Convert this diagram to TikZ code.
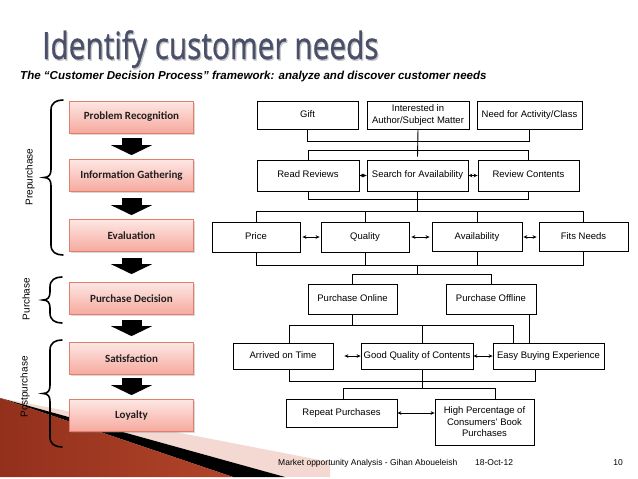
\documentclass[tikz,border=0pt]{standalone}
\usepackage{fontspec}
\setmainfont{Liberation Sans}
\newfontfamily\titlefont[FakeBold=1]{Open Sans}
\newfontfamily\boxfont{Carlito}
\usetikzlibrary{arrows.meta,shadows,calc}
\definecolor{titlecol}{HTML}{4A5069}
\definecolor{boxedge}{HTML}{E0806C}
\definecolor{boxtop}{HTML}{FDE7E3}
\definecolor{boxbot}{HTML}{F6A99E}
\definecolor{swred}{HTML}{B2442A}
\definecolor{swdark}{HTML}{92301C}
\definecolor{swpink}{HTML}{F4D9D2}
\newcommand\curlybrace[3]{%
  \pgfmathsetmacro\bmid{(#2+#3)/2}%
  \draw[line width=1.6pt,line cap=round]
    (#1,#2) .. controls (#1-7,#2) and (#1-12,#2+3) .. (#1-12,#2+10)
    -- (#1-12,\bmid-8) .. controls (#1-12,\bmid-3) and (#1-14,\bmid) .. (#1-19,\bmid)
    .. controls (#1-14,\bmid) and (#1-12,\bmid+3) .. (#1-12,\bmid+8)
    -- (#1-12,#3-10) .. controls (#1-12,#3-3) and (#1-7,#3) .. (#1,#3);%
}
\begin{document}
\begin{tikzpicture}[x=1pt,y=-1pt,
  lbox/.style={draw=boxedge,line width=0.8pt,top color=boxtop,bottom color=boxbot,
    minimum width=124pt,minimum height=32pt,inner sep=0pt,text=black!88,
    font=\boxfont\bfseries\fontsize{11}{13}\selectfont,
    drop shadow={shadow xshift=1.5pt,shadow yshift=-1.5pt,opacity=0.3}},
  rboxbase/.style={draw=black,line width=0.8pt,fill=white,inner sep=0pt,
    font=\fontsize{9.5}{12}\selectfont},
  rboxm/.style={rboxbase,align=center},
  rbox/.style={rboxbase,text height=6.9pt,text depth=2pt},
  conn/.style={draw=black,line width=0.9pt},
  dbl/.style={line width=0.7pt,{Stealth[length=4pt,width=3.6pt]}-{Stealth[length=4pt,width=3.6pt]}},
  blockarrow/.style={line width=20pt,-{Triangle[length=10pt,width=41pt]},black},
  sidelabel/.style={rotate=90,font=\fontsize{10}{12}\selectfont,inner sep=0pt}]
\useasboundingbox (0,0) rectangle (638,479);
\fill[white] (0,0) rectangle (638,479);
% decorative swoosh bottom-left
\fill[swpink] (0,398) -- (330,462) -- (330,477) -- (285,477) -- cycle;
\fill[black] (0,398) -- (285,477) -- (233,477) -- cycle;
\shade[left color=swdark,right color=swred] (0,398) -- (233,477) -- (0,477) -- cycle;
% title
\node[anchor=base west,inner sep=0pt,text=black!22,font=\titlefont\fontsize{37.5}{42}\selectfont]
  (titleshadow) at (43.2,60.5) {\scalebox{0.795}[1]{Identify customer needs}};
\node[anchor=base west,inner sep=0pt,text=titlecol,font=\titlefont\fontsize{37.5}{42}\selectfont]
  (title) at (42,59) {\scalebox{0.795}[1]{Identify customer needs}};
\node[anchor=west,inner sep=0pt,font=\bfseries\itshape\fontsize{11.55}{13}\selectfont]
  (subtitle) at (20,77) {The “Customer Decision Process” framework: analyze and discover customer needs};
% left process boxes
\node[lbox] (pr) at (131.5,117) {Problem Recognition};
\node[lbox] (ig) at (131.5,175.5) {Information Gathering};
\node[lbox] (ev) at (131.5,235.5) {Evaluation};
\node[lbox] (pd) at (131.5,298.5) {Purchase Decision};
\node[lbox] (sa) at (131.5,358.5) {Satisfaction};
\node[lbox] (lo) at (131.5,415.5) {Loyalty};
\draw[blockarrow,shorten <=5pt,shorten >=4pt] (pr.south) -- (ig.north);
\draw[blockarrow,shorten <=6pt,shorten >=4pt] (ig.south) -- (ev.north);
\draw[blockarrow,shorten <=6pt,shorten >=8pt] (ev.south) -- (pd.north);
\draw[blockarrow,shorten <=5pt,shorten >=6pt] (pd.south) -- (sa.north);
\draw[blockarrow,shorten <=3pt,shorten >=4pt] (sa.south) -- (lo.north);
% braces and stage labels
\curlybrace{63}{100}{255}
\curlybrace{62}{277}{323}
\curlybrace{62}{340}{447}
\node[sidelabel] (lpre) at (30,177) {Prepurchase};
\node[sidelabel] (lpur) at (26,299) {Purchase};
\node[sidelabel] (lpost) at (25,387) {Postpurchase};
% right decision tree
\node[rbox,minimum width=101pt,minimum height=28pt] (gift) at (307.5,115) {Gift};
\node[rboxm,minimum width=102pt,minimum height=28pt] (int) at (418,115) {Interested in\\Author/Subject Matter};
\node[rbox,minimum width=105pt,minimum height=28pt] (need) at (529.5,115) {Need for Activity/Class};
\node[rbox,minimum width=102pt,minimum height=31pt] (read) at (308,175.5) {Read Reviews};
\node[rbox,minimum width=101pt,minimum height=31pt] (search) at (417.5,175.5) {Search for Availability};
\node[rbox,minimum width=101pt,minimum height=31pt] (review) at (528.5,175.5) {Review Contents};
\node[rbox,minimum width=88pt,minimum height=30pt] (price) at (256,237) {Price};
\node[rbox,minimum width=88pt,minimum height=30pt] (quality) at (365,237) {Quality};
\node[rbox,minimum width=90pt,minimum height=29pt] (avail) at (477,237) {Availability};
\node[rbox,minimum width=89pt,minimum height=29pt] (fits) at (583.5,237) {Fits Needs};
\node[rbox,minimum width=89pt,minimum height=30pt] (online) at (352.5,299.5) {Purchase Online};
\node[rbox,minimum width=90pt,minimum height=30pt] (offline) at (491,299.5) {Purchase Offline};
\node[rbox,minimum width=100pt,minimum height=26pt] (arrived) at (283,356) {Arrived on Time};
\node[rbox,minimum width=112pt,minimum height=26pt] (good) at (417,356) {Good Quality of Contents};
\node[rbox,minimum width=111pt,minimum height=26pt] (easy) at (548.5,356) {Easy Buying Experience};
\node[rbox,minimum width=111pt,minimum height=28pt] (repeat) at (341.5,413) {Repeat Purchases};
\node[rboxm,minimum width=99pt,minimum height=46pt,font=\fontsize{9.5}{11.5}\selectfont] (high) at (484.5,422) {High Percentage of\\Consumers’ Book\\Purchases};
% connectors
\draw[conn] (gift.south) -- ++(0,12) -| (need.south);
\draw[conn] (int.south) -- ($(search.north)+(0,-3)$);
\draw[conn] (read.north) -- ++(0,-9) -| (review.north);
\draw[dbl] (read.east) -- (search.west);
\draw[dbl] (search.east) -- (review.west);
\draw[conn] (read.south) -- ++(0,8) -| (review.south);
\draw[conn] (search.south) -- ++(0,21);
\draw[conn] (price.north) -- ++(0,-10) -| (fits.north);
\draw[conn] (quality.north) -- ++(0,-10);
\draw[conn] (avail.north) -- ++(0,-10.5);
\draw[dbl,shorten <=2pt,shorten >=1pt] (price.east) -- (quality.west);
\draw[dbl,shorten <=2pt,shorten >=2pt] (quality.east) -- (avail.west);
\draw[dbl,shorten <=1pt,shorten >=2pt] (avail.east) -- (fits.west);
\draw[conn] (price.south) -- ++(0,13) -| (fits.south);
\draw[conn] (quality.south) -- ++(0,13);
\draw[conn] (avail.south) -- ++(0,13.5);
\coordinate (m3) at ($(search.south)+(0,74)$);
\draw[conn] (m3) -- ++(0,10);
\draw[conn] (online.north) -- ++(0,-9.5) -| (offline.north);
\draw[conn] (online.south) -- ++(0,11.5);
\draw[conn] ([xshift=6pt]arrived.north) -- ++(0,-17) -| ([xshift=-35.5pt]easy.north);
\draw[conn] ([xshift=5pt]good.north) -- ++(0,-17);
\draw[conn] ([xshift=38pt]offline.south) -- ([xshift=38pt]offline.south |- easy.north);
\draw[dbl,shorten <=11pt] (arrived.east) -- (good.west);
\draw[dbl] (good.east) -- (easy.west);
\draw[conn] ([xshift=6pt]arrived.south) -- ++(0,12) -| ([xshift=-13.5pt]easy.south);
\draw[conn] ([xshift=5pt]good.south) -- ++(0,20);
\draw[conn] ([xshift=1.5pt]repeat.north) -- ++(0,-10) -| ([xshift=10.5pt]high.north);
\draw[dbl] (repeat.east) -- (high.west |- repeat.east);
% footer
\node[anchor=west,inner sep=0pt,font=\fontsize{8.5}{10}\selectfont] (foot) at (278,463) {Market opportunity Analysis - Gihan Aboueleish};
\node[anchor=west,inner sep=0pt,font=\fontsize{8.5}{10}\selectfont] (date) at (475,463) {18-Oct-12};
\node[inner sep=0pt,font=\fontsize{8.5}{10}\selectfont] (page) at (618,463) {10};
\end{tikzpicture}
\end{document}
